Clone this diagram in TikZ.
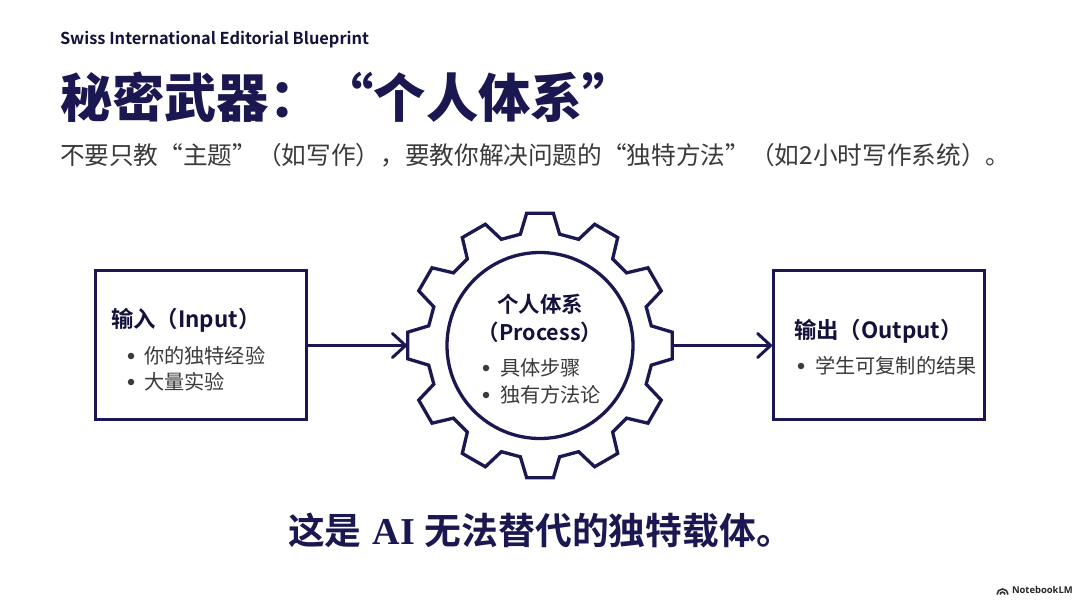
\documentclass[tikz,border=0pt]{standalone}
\usepackage{fontspec}
\usetikzlibrary{arrows.meta}
\setmainfont{Noto Sans CJK SC}
\newfontfamily\cjkb{Noto Sans CJK SC Bold}
\newfontfamily\cjkh{Noto Sans CJK SC Black}
\newfontfamily\serifb{Liberation Serif Bold}
\newfontfamily\nlm{Open Sans}
\definecolor{navy}{HTML}{1B1750}
\definecolor{headnavy}{HTML}{14123A}
\definecolor{ink}{HTML}{3A3A3A}
\newcommand{\fs}[1]{\fontsize{#1}{#1}\selectfont}
\tikzset{
  x=1pt,y=-1pt,
  txt/.style={inner sep=0pt,outer sep=0pt,anchor=west},
  headtxt/.style={txt,text=headnavy,font=\cjkb\fs{16.4}},
  titletxt/.style={txt,text=navy,font=\cjkh\fs{52.3}},
  subtxt/.style={txt,text=ink,font=\fs{24.65}},
  boxhead/.style={txt,text=headnavy,font=\cjkb\fs{22.4}},
  gearhead/.style={inner sep=0pt,text=headnavy,font=\cjkb\fs{21.5}},
  itemtxt/.style={txt,text=ink,font=\fs{20.2}},
  dotm/.style={circle,fill=ink,inner sep=0pt,minimum size=6.5pt},
  panel/.style={draw=navy,line width=3.3pt,minimum width=210.5pt,minimum height=149pt,inner sep=0pt},
  gearline/.style={draw=navy,line width=3.3pt,line join=miter},
  flow/.style={draw=navy,line width=3pt,-{Straight Barb[length=13pt,width=24pt,line width=3pt,round]}},
}
\begin{document}
\begin{tikzpicture}
\useasboundingbox (0,0) rectangle (1080,602);
\fill[white] (0,0) rectangle (1080,602);
\node[headtxt] (head) at (60,39.5) {Swiss International Editorial Blueprint};
\node[titletxt] (title) at (60,97) {秘密武器：“个人体系”};
\node[subtxt] (sub) at (60,155.5) {不要只教“主题”（如写作），要教你解决问题的“独特方法”（如2小时写作系统）。};

\node[panel] (inbox) at (201,345) {};
\node[panel] (outbox) at (879,345) {};

\coordinate (gc) at (540,345.5);
\draw[gearline,shift={(gc)}] (-10:113)
  \foreach \a in {0,30,...,330}{ -- (\a-10:113) -- (\a-5.75:133) -- (\a+5.75:133) -- (\a+10:113)} -- cycle;
\node[circle,draw=navy,line width=3.3pt,minimum size=186pt,inner sep=0pt] (hub) at (gc) {};
\coordinate (gearL) at (407,345.5);
\coordinate (gearR) at (673,345.5);

\draw[flow] (inbox.east |- gearL) -- (gearL);
\draw[flow] (gearR) -- (outbox.west |- gearR);

\node[boxhead] (inhead) at (111,320) {输入（Input）};
\node[dotm] (d1) at (131,356) {};
\node[itemtxt] (i1) at (144,356) {你的独特经验};
\node[dotm] (d2) at (131,382) {};
\node[itemtxt] (i2) at (144,382) {大量实验};

\node[gearhead] (ghead) at (540,304.5) {个人体系};
\node[gearhead] (gproc) at (540,332.5) {（Process）};
\node[dotm] (d3) at (486,368) {};
\node[itemtxt] (g1) at (500,368) {具体步骤};
\node[dotm] (d4) at (486,395) {};
\node[itemtxt] (g2) at (500,395) {独有方法论};

\node[boxhead] (outhead) at (794,331) {输出（Output）};
\node[dotm] (d5) at (801,366) {};
\node[itemtxt] (o1) at (815,366) {学生可复制的结果};

\node[txt,text=navy,font=\cjkb\fs{36.8}] (claim) at (288,531) {这是\hspace{11pt}{\serifb\fs{38}AI}\hspace{10pt}无法替代的独特载体。};

\draw[black!80,line width=1.6pt,shift={(1002.5,594.5)}] (-5.5,0) arc[start angle=180,end angle=360,radius=5.5];
\draw[black!80,line width=1.6pt,shift={(1002.5,594.5)}] (-2.4,0) arc[start angle=180,end angle=360,radius=2.4];
\node[txt,text=black!85,font=\nlm\bfseries\fs{9.4}] (nb) at (1012,590) {NotebookLM};
\end{tikzpicture}
\end{document}
